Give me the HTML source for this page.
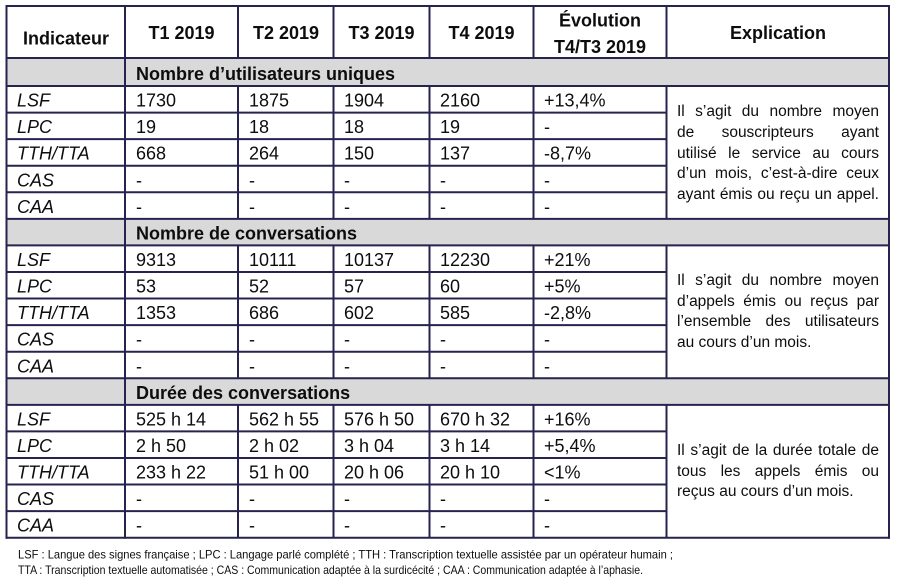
<!DOCTYPE html>
<html>
<head>
<meta charset="utf-8">
<style>
  html,body{margin:0;padding:0;background:#fff;}
  #wrap{position:relative;width:901px;height:588px;overflow:hidden;background:#fff;}
  svg{position:absolute;left:0;top:0;}
  .ex{position:absolute;left:677px;width:202px;font-family:"Liberation Sans",sans-serif;font-size:15.5px;line-height:20px;color:#0d0d0d;text-align:justify;text-align-last:justify;}
  .ex.l{text-align:left;text-align-last:left;}
</style>
</head>
<body>
<div id="wrap">
<svg width="901" height="588" viewBox="0 0 901 588" xmlns="http://www.w3.org/2000/svg">
  <g fill="#d9d9d9">
    <rect x="6.5" y="58" width="882.5" height="28"/>
    <rect x="6.5" y="218.85" width="882.5" height="26.57"/>
    <rect x="6.5" y="378.27" width="882.5" height="26.57"/>
  </g>
  <g stroke="#27234f" stroke-width="2" fill="none">
    <line x1="5.5" y1="6" x2="890" y2="6"/>
    <line x1="5.5" y1="58" x2="890" y2="58"/>
    <line x1="5.5" y1="86" x2="890" y2="86"/>
    <line x1="5.5" y1="218.85" x2="890" y2="218.85"/>
    <line x1="5.5" y1="245.42" x2="890" y2="245.42"/>
    <line x1="5.5" y1="378.27" x2="890" y2="378.27"/>
    <line x1="5.5" y1="404.84" x2="890" y2="404.84"/>
    <line x1="5.5" y1="537.69" x2="890" y2="537.69"/>
    <line x1="6.5" y1="112.57" x2="666.5" y2="112.57"/>
    <line x1="6.5" y1="139.14" x2="666.5" y2="139.14"/>
    <line x1="6.5" y1="165.71" x2="666.5" y2="165.71"/>
    <line x1="6.5" y1="192.28" x2="666.5" y2="192.28"/>
    <line x1="6.5" y1="271.99" x2="666.5" y2="271.99"/>
    <line x1="6.5" y1="298.56" x2="666.5" y2="298.56"/>
    <line x1="6.5" y1="325.13" x2="666.5" y2="325.13"/>
    <line x1="6.5" y1="351.7" x2="666.5" y2="351.7"/>
    <line x1="6.5" y1="431.41" x2="666.5" y2="431.41"/>
    <line x1="6.5" y1="457.98" x2="666.5" y2="457.98"/>
    <line x1="6.5" y1="484.55" x2="666.5" y2="484.55"/>
    <line x1="6.5" y1="511.12" x2="666.5" y2="511.12"/>
    <line x1="6.5" y1="5" x2="6.5" y2="538.7"/>
    <line x1="889" y1="5" x2="889" y2="538.7"/>
    <line x1="125" y1="5" x2="125" y2="538.7"/>
    <path d="M238 5V58 M238 86V218.85 M238 245.42V378.27 M238 404.84V537.69"/>
    <path d="M333.5 5V58 M333.5 86V218.85 M333.5 245.42V378.27 M333.5 404.84V537.69"/>
    <path d="M429.5 5V58 M429.5 86V218.85 M429.5 245.42V378.27 M429.5 404.84V537.69"/>
    <path d="M533.5 5V58 M533.5 86V218.85 M533.5 245.42V378.27 M533.5 404.84V537.69"/>
    <path d="M666.5 5V58 M666.5 86V218.85 M666.5 245.42V378.27 M666.5 404.84V537.69"/>
  </g>

  <g font-family="Liberation Sans, sans-serif" font-size="18" fill="#0d0d0d">
    <g font-weight="bold" text-anchor="middle">
      <text x="66" y="44.5">Indicateur</text>
      <text x="181.5" y="39">T1 2019</text>
      <text x="286" y="39">T2 2019</text>
      <text x="381.5" y="39">T3 2019</text>
      <text x="481.5" y="39">T4 2019</text>
      <text x="600" y="26.7">Évolution</text>
      <text x="600" y="53">T4/T3 2019</text>
      <text x="778" y="39">Explication</text>
    </g>
    <g font-weight="bold">
      <text x="136" y="80">Nombre d’utilisateurs uniques</text>
      <text x="136" y="239.4">Nombre de conversations</text>
      <text x="136" y="398.8">Durée des conversations</text>
    </g>
    <g font-style="italic">
      <text x="17" y="106.6">LSF</text>
      <text x="17" y="133.1">LPC</text>
      <text x="17" y="159.7">TTH/TTA</text>
      <text x="17" y="186.3">CAS</text>
      <text x="17" y="212.9">CAA</text>
      <text x="17" y="266">LSF</text>
      <text x="17" y="292.6">LPC</text>
      <text x="17" y="319.1">TTH/TTA</text>
      <text x="17" y="345.7">CAS</text>
      <text x="17" y="372.3">CAA</text>
      <text x="17" y="425.4">LSF</text>
      <text x="17" y="452">LPC</text>
      <text x="17" y="478.6">TTH/TTA</text>
      <text x="17" y="505.1">CAS</text>
      <text x="17" y="531.7">CAA</text>
    </g>
    <text x="136" y="106.6">1730</text><text x="249" y="106.6">1875</text><text x="344" y="106.6">1904</text><text x="440" y="106.6">2160</text><text x="544" y="106.6">+13,4%</text>
    <text x="136" y="133.1">19</text><text x="249" y="133.1">18</text><text x="344" y="133.1">18</text><text x="440" y="133.1">19</text><text x="544" y="133.1">-</text>
    <text x="136" y="159.7">668</text><text x="249" y="159.7">264</text><text x="344" y="159.7">150</text><text x="440" y="159.7">137</text><text x="544" y="159.7">-8,7%</text>
    <text x="136" y="186.3">-</text><text x="249" y="186.3">-</text><text x="344" y="186.3">-</text><text x="440" y="186.3">-</text><text x="544" y="186.3">-</text>
    <text x="136" y="212.9">-</text><text x="249" y="212.9">-</text><text x="344" y="212.9">-</text><text x="440" y="212.9">-</text><text x="544" y="212.9">-</text>
    <text x="136" y="266">9313</text><text x="249" y="266">10111</text><text x="344" y="266">10137</text><text x="440" y="266">12230</text><text x="544" y="266">+21%</text>
    <text x="136" y="292.6">53</text><text x="249" y="292.6">52</text><text x="344" y="292.6">57</text><text x="440" y="292.6">60</text><text x="544" y="292.6">+5%</text>
    <text x="136" y="319.1">1353</text><text x="249" y="319.1">686</text><text x="344" y="319.1">602</text><text x="440" y="319.1">585</text><text x="544" y="319.1">-2,8%</text>
    <text x="136" y="345.7">-</text><text x="249" y="345.7">-</text><text x="344" y="345.7">-</text><text x="440" y="345.7">-</text><text x="544" y="345.7">-</text>
    <text x="136" y="372.3">-</text><text x="249" y="372.3">-</text><text x="344" y="372.3">-</text><text x="440" y="372.3">-</text><text x="544" y="372.3">-</text>
    <text x="136" y="425.4">525 h 14</text><text x="249" y="425.4">562 h 55</text><text x="344" y="425.4">576 h 50</text><text x="440" y="425.4">670 h 32</text><text x="544" y="425.4">+16%</text>
    <text x="136" y="452">2 h 50</text><text x="249" y="452">2 h 02</text><text x="344" y="452">3 h 04</text><text x="440" y="452">3 h 14</text><text x="544" y="452">+5,4%</text>
    <text x="136" y="478.6">233 h 22</text><text x="249" y="478.6">51 h 00</text><text x="344" y="478.6">20 h 06</text><text x="440" y="478.6">20 h 10</text><text x="544" y="478.6">&lt;1%</text>
    <text x="136" y="505.1">-</text><text x="249" y="505.1">-</text><text x="344" y="505.1">-</text><text x="440" y="505.1">-</text><text x="544" y="505.1">-</text>
    <text x="136" y="531.7">-</text><text x="249" y="531.7">-</text><text x="344" y="531.7">-</text><text x="440" y="531.7">-</text><text x="544" y="531.7">-</text>
  </g>

  <g font-family="Liberation Sans, sans-serif" font-size="12" fill="#0d0d0d">
    <text x="18" y="558.5" textLength="655" lengthAdjust="spacingAndGlyphs">LSF : Langue des signes française ; LPC : Langage parlé complété ; TTH : Transcription textuelle assistée par un opérateur humain ;</text>
    <text x="18" y="574" textLength="625" lengthAdjust="spacingAndGlyphs">TTA : Transcription textuelle automatisée ; CAS : Communication adaptée à la surdicécité ; CAA : Communication adaptée à l’aphasie.</text>
  </g>
</svg>

<div class="ex" style="top:102.1px">Il s’agit du nombre moyen</div>
<div class="ex" style="top:122.8px">de souscripteurs ayant</div>
<div class="ex" style="top:143.5px">utilisé le service au cours</div>
<div class="ex" style="top:164.2px">d’un mois, c’est-à-dire ceux</div>
<div class="ex" style="top:184.9px">ayant émis ou reçu un appel.</div>

<div class="ex" style="top:271.3px">Il s’agit du nombre moyen</div>
<div class="ex" style="top:291.9px">d’appels émis ou reçus par</div>
<div class="ex" style="top:312.3px">l’ensemble des utilisateurs</div>
<div class="ex l" style="top:332.9px">au cours d’un mois.</div>

<div class="ex" style="top:441.3px">Il s’agit de la durée totale de</div>
<div class="ex" style="top:461.9px">tous les appels émis ou</div>
<div class="ex l" style="top:482.3px">reçus au cours d’un mois.</div>
</div>
</body>
</html>
